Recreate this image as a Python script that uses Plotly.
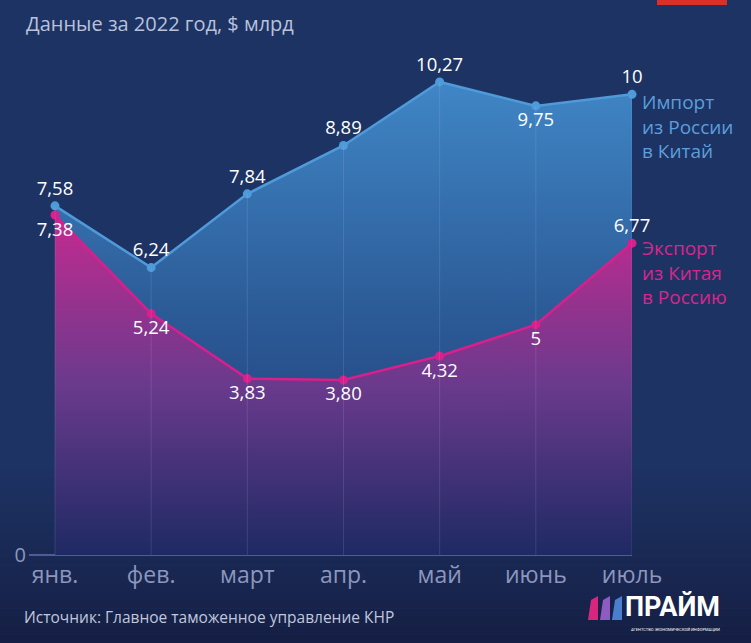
import plotly.graph_objects as go

# Data: Russia-China trade, 2022, $ bn
months = ["янв.", "фев.", "март", "апр.", "май", "июнь", "июль"]
imports = [7.58, 6.24, 7.84, 8.89, 10.27, 9.75, 10.00]
exports = [7.38, 5.24, 3.83, 3.80, 4.32, 5.00, 6.77]
import_labels = ["7,58", "6,24", "7,84", "8,89", "10,27", "9,75", "10"]
export_labels = ["7,38", "5,24", "3,83", "3,80", "4,32", "5", "6,77"]
import_pos = ["top center"] * 5 + ["bottom center", "top center"]
export_pos = ["bottom center"] * 6 + ["top center"]

W, H = 751, 643
L, R, T, B = 29, 632, 40, 555  # plot area in pixels


def px(x):
    return (x - L) / (R - L)


def py(y):
    return (B - y) / (B - T)


x_idx = list(range(len(months)))

# faint vertical grid segments inside the filled area
grid_x, grid_y = [], []
for i, v in zip(x_idx, imports):
    grid_x += [i, i, None]
    grid_y += [0, v, None]

fig = go.Figure()

fig.add_trace(go.Scatter(
    x=x_idx, y=imports, mode="lines+markers+text",
    fill="tozeroy",
    fillgradient=dict(type="vertical",
                      colorscale=[[0, "#1f3670"], [0.5, "#2b5a96"], [1, "#4086c6"]]),
    line=dict(color="#4f9ad8", width=2.5),
    marker=dict(size=9, color="#4f9ad8"),
    text=import_labels, textposition=import_pos,
    textfont=dict(color="white", size=18.5, family="Open Sans"),
    cliponaxis=False, hoverinfo="skip",
))

fig.add_trace(go.Scatter(
    x=x_idx, y=exports, mode="lines+markers+text",
    fill="tozeroy",
    fillgradient=dict(type="vertical",
                      colorscale=[[0, "#1e2a64"], [0.5, "#6a3a8c"], [1, "#c42a90"]]),
    line=dict(color="#d81f8c", width=2.5),
    marker=dict(size=9, color="#d81f8c"),
    text=export_labels, textposition=export_pos,
    textfont=dict(color="white", size=18.5, family="Open Sans"),
    cliponaxis=False, hoverinfo="skip",
))

fig.add_trace(go.Scatter(
    x=grid_x, y=grid_y, mode="lines",
    line=dict(color="rgba(200,210,255,0.14)", width=1),
    hoverinfo="skip",
))

# background gradient (bottom darker)
shapes = [dict(type="rect", xref="paper", yref="paper", layer="below",
               x0=px(0), x1=px(W), y0=py(H), y1=py(0),
               fillcolor="#1d3363", line=dict(width=0))]
c0, c1 = (29, 51, 99), (21, 30, 68)
n = 20
for k in range(n):
    y0 = 470 + k * (H - 470) / n
    y1 = 470 + (k + 1) * (H - 470) / n
    f = (k + 0.5) / n
    col = "rgb(%d,%d,%d)" % tuple(round(a + (b - a) * f) for a, b in zip(c0, c1))
    shapes.append(dict(type="rect", xref="paper", yref="paper", layer="below",
                       x0=px(0), x1=px(W), y0=py(y1), y1=py(y0),
                       fillcolor=col, line=dict(width=0)))

# red tab top-right
shapes.append(dict(type="rect", xref="paper", yref="paper",
                   x0=px(657), x1=px(727), y0=py(5), y1=py(-5),
                   fillcolor="#d9302a", line=dict(width=0)))

# logo bars
for x0, colr in [(588, "#d8267f"), (600, "#8e5bc0"), (612, "#4a7fd0")]:
    shapes.append(dict(type="path", xref="paper", yref="paper",
                       path="M %f,%f L %f,%f L %f,%f L %f,%f Z" % (
                           px(x0), py(620), px(x0 + 10), py(620),
                           px(x0 + 10), py(596), px(x0 + 3), py(600)),
                       fillcolor=colr, line=dict(width=0)))

annotations = [
    dict(text="Данные за 2022 год, $ млрд", x=px(24), y=py(23), xref="paper", yref="paper",
         xanchor="left", yanchor="middle", showarrow=False,
         font=dict(size=20, color="#b9c2dc", family="Open Sans")),
    dict(text="Источник: Главное таможенное управление КНР", x=px(22), y=py(617),
         xref="paper", yref="paper", xanchor="left", yanchor="middle", showarrow=False,
         font=dict(size=15.5, color="#c0c7de", family="Open Sans")),
    dict(text="Импорт<br>из России<br>в Китай", x=px(640), y=py(87), xref="paper", yref="paper",
         xanchor="left", yanchor="top", align="left", showarrow=False,
         font=dict(size=19, color="#5b9fdc", family="Open Sans")),
    dict(text="Экспорт<br>из Китая<br>в Россию", x=px(640), y=py(233), xref="paper", yref="paper",
         xanchor="left", yanchor="top", align="left", showarrow=False,
         font=dict(size=19, color="#d8268c", family="Open Sans")),
    dict(text="<b>ПРАЙМ</b>", x=px(623), y=py(607), xref="paper", yref="paper",
         xanchor="left", yanchor="middle", showarrow=False,
         font=dict(size=27, color="white", family="Roboto")),
    dict(text="АГЕНТСТВО ЭКОНОМИЧЕСКОЙ ИНФОРМАЦИИ", x=px(675), y=py(629), xref="paper", yref="paper",
         xanchor="center", yanchor="middle", showarrow=False,
         font=dict(size=4, color="white", family="Roboto")),
]

fig.update_layout(
    width=W, height=H,
    margin=dict(l=L, r=W - R, t=T, b=H - B),
    paper_bgcolor="#1d3363", plot_bgcolor="rgba(0,0,0,0)",
    showlegend=False,
    shapes=shapes, annotations=annotations,
    xaxis=dict(range=[-0.27, 6], tickvals=x_idx, ticktext=months,
               showgrid=False, zeroline=False, showline=False, ticks="",
               ticklabelstandoff=4,
               tickfont=dict(size=23, color="#8d96bd", family="Open Sans")),
    yaxis=dict(range=[0, 11.18], tickvals=[0], ticktext=["0"],
               showgrid=False, zeroline=True, zerolinecolor="#4d5c94", zerolinewidth=1.5,
               showline=False, ticks="", ticklabelstandoff=2,
               tickfont=dict(size=20, color="#8d96bd", family="Open Sans")),
)

fig.write_html("out.html", config={"displayModeBar": False},
               post_script="document.body.style.margin='0';")
